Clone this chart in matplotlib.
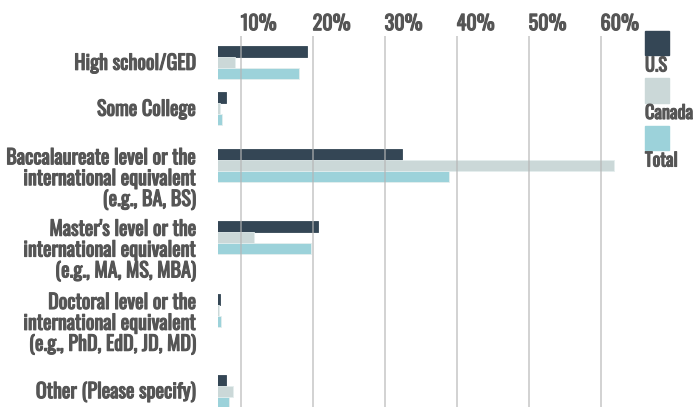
import matplotlib
matplotlib.use("Agg")
import matplotlib.pyplot as plt
from matplotlib.patches import Rectangle
from matplotlib.transforms import blended_transform_factory
from matplotlib import font_manager
import matplotlib.patheffects as pe

# ---- data ----
categories = [
    "High school/GED",
    "Some College",
    "Baccalaureate level or the\ninternational equivalent\n(e.g., BA, BS)",
    "Master's level or the\ninternational equivalent\n(e.g., MA, MS, MBA)",
    "Doctoral level or the\ninternational equivalent\n(e.g., PhD, EdD, JD, MD)",
    "Other (Please specify)",
]
us = [19.2, 8.0, 32.4, 20.7, 7.1, 8.0]
canada = [9.2, 7.1, 61.9, 11.8, 7.0, 9.0]
total = [18.1, 7.4, 38.9, 19.8, 7.3, 8.4]
series_names = ["U.S", "Canada", "Total"]
tick_values = [10, 20, 30, 40, 50, 60]
tick_labels = ["10%", "20%", "30%", "40%", "50%", "60%"]

# ---- layout ----
row_pos = [26.8, 72.8, 129.8, 201.2, 274.5, 355.7]  # row centres (vertical layout units)
bar_h = 11
colors = ["#344655", "#cbd8d8", "#9cd2da"]
text_color = "#555555"

names = {f.name for f in font_manager.fontManager.ttflist}
fam = "DejaVu Sans"
for cand in ["Oswald", "Roboto Condensed", "Archivo Narrow", "Barlow Condensed"]:
    if cand in names:
        fam = cand
        break
plt.rcParams["font.family"] = [fam, "DejaVu Sans"]
FS = 14.5
thick = [pe.withStroke(linewidth=0.8, foreground=text_color)]

W, H = 694, 407
fig = plt.figure(figsize=(W / 100, H / 100), dpi=100)
ax_left, ax_right, ax_top = 218, 625, 36
ax = fig.add_axes([ax_left / W, 0, (ax_right - ax_left) / W, (H - ax_top) / H])

for i, (vals, c) in enumerate(zip([us, canada, total], colors)):
    ys = [p + (i - 1) * bar_h for p in row_pos]
    edge = c if i == 0 else "#e4eeee"
    ax.barh(ys, vals, height=bar_h, color=c, edgecolor=edge, linewidth=0.6, zorder=2)

ax.set_xlim(6.85, 63.4)
ax.set_ylim(H - ax_top, 0)
ax.set_xticks(tick_values)
ax.set_xticklabels(tick_labels)
ax.xaxis.tick_top()
ax.tick_params(axis="x", length=0, pad=2, labelsize=FS, labelcolor=text_color)
for lbl in ax.get_xticklabels():
    lbl.set_horizontalalignment("left")
    lbl.set_path_effects(thick)
ax.set_yticks([])
ax.grid(axis="x", color="#b5b5b5", linewidth=1.2, alpha=0.7, zorder=3)
ax.set_axisbelow(False)
for s in ax.spines.values():
    s.set_visible(False)

trans = blended_transform_factory(fig.transFigure, ax.transData)
for lab, p in zip(categories, row_pos):
    if "\n" in lab:
        ax.text(196 / W, p - 1.5 * bar_h - 2, lab, transform=trans, ha="right", va="top",
                fontsize=FS, color=text_color, linespacing=1.05, path_effects=thick)
    else:
        ax.text(196 / W, p, lab, transform=trans, ha="right", va="center",
                fontsize=FS, color=text_color, path_effects=thick)

# legend (manual)
for i, (name, c) in enumerate(zip(series_names, colors)):
    y_top = 31 + i * 47.5
    fig.add_artist(Rectangle((645 / W, 1 - (y_top + 24) / H), 24 / W, 24 / H,
                             transform=fig.transFigure, color=c))
    fig.text(645 / W, 1 - (y_top + 34.5) / H, name, ha="left", va="center",
             fontsize=13.2, color=text_color, path_effects=thick)

fig.savefig("out.png", dpi=100)
